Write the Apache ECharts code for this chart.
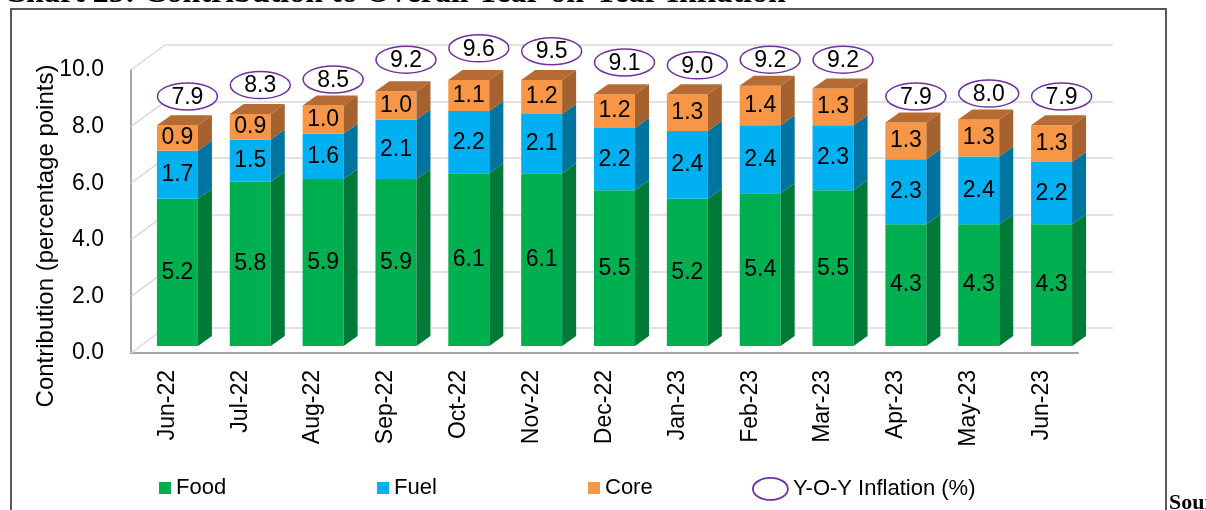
<!DOCTYPE html>
<html>
<head>
<meta charset="utf-8">
<script src="https://cdn.jsdelivr.net/npm/echarts@6/dist/echarts.min.js"></script>
<style>
html,body{margin:0;padding:0;background:#fff;}
#chart{width:1206px;height:510px;}
</style>
</head>
<body>
<div id="chart"></div>
<script>
const categories = ['Jun-22','Jul-22','Aug-22','Sep-22','Oct-22','Nov-22','Dec-22','Jan-23','Feb-23','Mar-23','Apr-23','May-23','Jun-23'];
const food = [5.2,5.8,5.9,5.9,6.1,6.1,5.5,5.2,5.4,5.5,4.3,4.3,4.3];
const fuel = [1.7,1.5,1.6,2.1,2.2,2.1,2.2,2.4,2.4,2.3,2.3,2.4,2.2];
const core = [0.9,0.9,1.0,1.0,1.1,1.2,1.2,1.3,1.4,1.3,1.3,1.3,1.3];
const yoy  = [7.9,8.3,8.5,9.2,9.6,9.5,9.1,9.0,9.2,9.2,7.9,8.0,7.9];
const yTicks = [0,2,4,6,8,10];

const FONT = 'Liberation Sans, Arial, sans-serif';
const SERIF = 'Liberation Serif, Times New Roman, serif';
const COLORS = {
  Food: {front:'#00B050', side:'#007A36', top:'#00873C'},
  Fuel: {front:'#00B0F0', side:'#0074A0', top:'#0088BB'},
  Core: {front:'#F79646', side:'#A5612E', top:'#B56B33'}
};
const DEPTH_X = 14, DEPTH_Y = -10, BAR_W = 41, SHIFT_X = 10, SHIFT_Y = -7;

function stackRows(base, vals) {
  return vals.map((v, i) => [i, base[i], base[i] + v, v]);
}
const zeros = food.map(() => 0);
const foodTop = food.slice();
const fuelTop = food.map((v, i) => v + fuel[i]);

function makeBarRender(name, isTop) {
  const c = COLORS[name];
  return function (params, api) {
    const i = api.value(0), lo = api.value(1), hi = api.value(2), v = api.value(3);
    const p0 = api.coord([i, lo]);
    const p1 = api.coord([i, hi]);
    const cx = p0[0] + SHIFT_X;
    const L = cx - BAR_W / 2, R = cx + BAR_W / 2;
    const yb = p0[1] + SHIFT_Y, yt = p1[1] + SHIFT_Y;
    const children = [
      {type:'rect', shape:{x:L, y:yt, width:BAR_W, height:yb - yt}, style:{fill:c.front}},
      {type:'polygon', shape:{points:[[R,yt],[R+DEPTH_X,yt+DEPTH_Y],[R+DEPTH_X,yb+DEPTH_Y],[R,yb]]}, style:{fill:c.side}}
    ];
    if (isTop) {
      children.push({type:'polygon', shape:{points:[[L,yt],[L+DEPTH_X,yt+DEPTH_Y],[R+DEPTH_X,yt+DEPTH_Y],[R,yt]]}, style:{fill:c.top}});
    }
    children.push({type:'text', style:{text:v.toFixed(1), x:cx, y:(yt+yb)/2, align:'center', verticalAlign:'middle', font:'23px ' + FONT, fill:'#000'}});
    return {type:'group', children};
  };
}

function yoyRender(params, api) {
  const i = api.value(0), v = api.value(1);
  const p = api.coord([i, v]);
  const cx = p[0] + 20, cy = p[1] - 33;
  return {type:'group', children:[
    {type:'ellipse', shape:{cx, cy, rx:30, ry:13.5}, style:{fill:'#fff', stroke:'#7030A0', lineWidth:1.5}},
    {type:'text', style:{text:v.toFixed(1), x:cx, y:cy + 1, align:'center', verticalAlign:'middle', font:'23px ' + FONT, fill:'#000'}}
  ]};
}

function wallRender(params, api) {
  const v = api.value(1);
  const p = api.coord([0, v]);
  const band = api.size([1, 0])[0];
  const x0 = p[0] - band / 2, y0 = p[1];
  return {type:'line', shape:{x1:x0, y1:y0, x2:x0 + 34, y2:y0 - 25}, style:{stroke:'#d9d9d9', lineWidth:1.5}};
}

const chart = echarts.init(document.getElementById('chart'));
const legendText = {fontSize:22, fontFamily:FONT, color:'#000'};
chart.setOption({
  animation:false,
  grid:[
    {left:131, right:128, top:70, bottom:157},
    {left:165, right:93, top:45, bottom:182}
  ],
  xAxis:[
    {type:'category', gridIndex:0, data:categories,
     axisLine:{show:true, lineStyle:{color:'#a6a6a6', width:2}},
     axisTick:{show:false},
     axisLabel:{rotate:90, margin:17, fontSize:23, fontFamily:FONT, color:'#000'}},
    {type:'category', gridIndex:1, data:categories, show:false}
  ],
  yAxis:[
    {type:'value', gridIndex:0, min:0, max:10, interval:2,
     axisLine:{show:true, lineStyle:{color:'#a6a6a6', width:2}},
     axisTick:{show:false}, splitLine:{show:false},
     axisLabel:{margin:27, fontSize:23, fontFamily:FONT, color:'#000', formatter:(v)=>v.toFixed(1)}},
    {type:'value', gridIndex:1, min:0, max:10, interval:2,
     axisLine:{show:false}, axisTick:{show:false}, axisLabel:{show:false},
     splitLine:{show:true, lineStyle:{color:'#d9d9d9', width:1.5}}}
  ],
  legend:[
    {data:['Food'], left:159, top:477, padding:0, icon:'rect', itemWidth:12, itemHeight:12, selectedMode:false, textStyle:legendText},
    {data:['Fuel'], left:377, top:477, padding:0, icon:'rect', itemWidth:12, itemHeight:12, selectedMode:false, textStyle:legendText},
    {data:['Core'], left:588, top:477, padding:0, icon:'rect', itemWidth:12, itemHeight:12, selectedMode:false, textStyle:legendText},
    {data:[{name:'Y-O-Y Inflation (%)', icon:'path://M0,10A10,10,0,1,1,20,10A10,10,0,1,1,0,10Z',
            itemStyle:{color:'#fff', borderColor:'#7030A0', borderWidth:1.8}}],
     left:752, top:477, padding:0, itemWidth:35, itemHeight:22, symbolKeepAspect:false, selectedMode:false, textStyle:legendText}
  ],
  graphic:[
    {type:'rect', shape:{x:11, y:9, width:1155, height:520}, style:{fill:'none', stroke:'#595959', lineWidth:2}, z:-1},
    {type:'text', x:3, y:-6, style:{text:'Chart 25: Contribution to Overall Year-on-Year Inflation', font:'bold 32px ' + SERIF, fill:'#000', verticalAlign:'middle'}},
    {type:'text', x:1169, y:503, style:{text:'Source', font:'bold 22px ' + SERIF, fill:'#000', verticalAlign:'middle'}},
    {type:'text', x:46, y:236, rotation:Math.PI/2, style:{text:'Contribution (percentage points)', font:'24px ' + FONT, fill:'#000', align:'center', verticalAlign:'middle'}}
  ],
  series:[
    {type:'custom', name:'wall', xAxisIndex:0, yAxisIndex:0, data:yTicks.map(v=>[0, v]), encode:{x:0, y:1}, renderItem:wallRender, silent:true, z:1},
    {type:'custom', name:'Food', xAxisIndex:0, yAxisIndex:0, itemStyle:{color:COLORS.Food.front},
     data:stackRows(zeros, food), encode:{x:0, y:[1,2]}, renderItem:makeBarRender('Food', false)},
    {type:'custom', name:'Fuel', xAxisIndex:0, yAxisIndex:0, itemStyle:{color:COLORS.Fuel.front},
     data:stackRows(foodTop, fuel), encode:{x:0, y:[1,2]}, renderItem:makeBarRender('Fuel', false)},
    {type:'custom', name:'Core', xAxisIndex:0, yAxisIndex:0, itemStyle:{color:COLORS.Core.front},
     data:stackRows(fuelTop, core), encode:{x:0, y:[1,2]}, renderItem:makeBarRender('Core', true)},
    {type:'custom', name:'Y-O-Y Inflation (%)', xAxisIndex:0, yAxisIndex:0,
     itemStyle:{color:'#fff', borderColor:'#7030A0', borderWidth:1.5},
     data:yoy.map((v,i)=>[i, v]), encode:{x:0, y:1}, renderItem:yoyRender, z:5}
  ]
});
</script>
</body>
</html>
